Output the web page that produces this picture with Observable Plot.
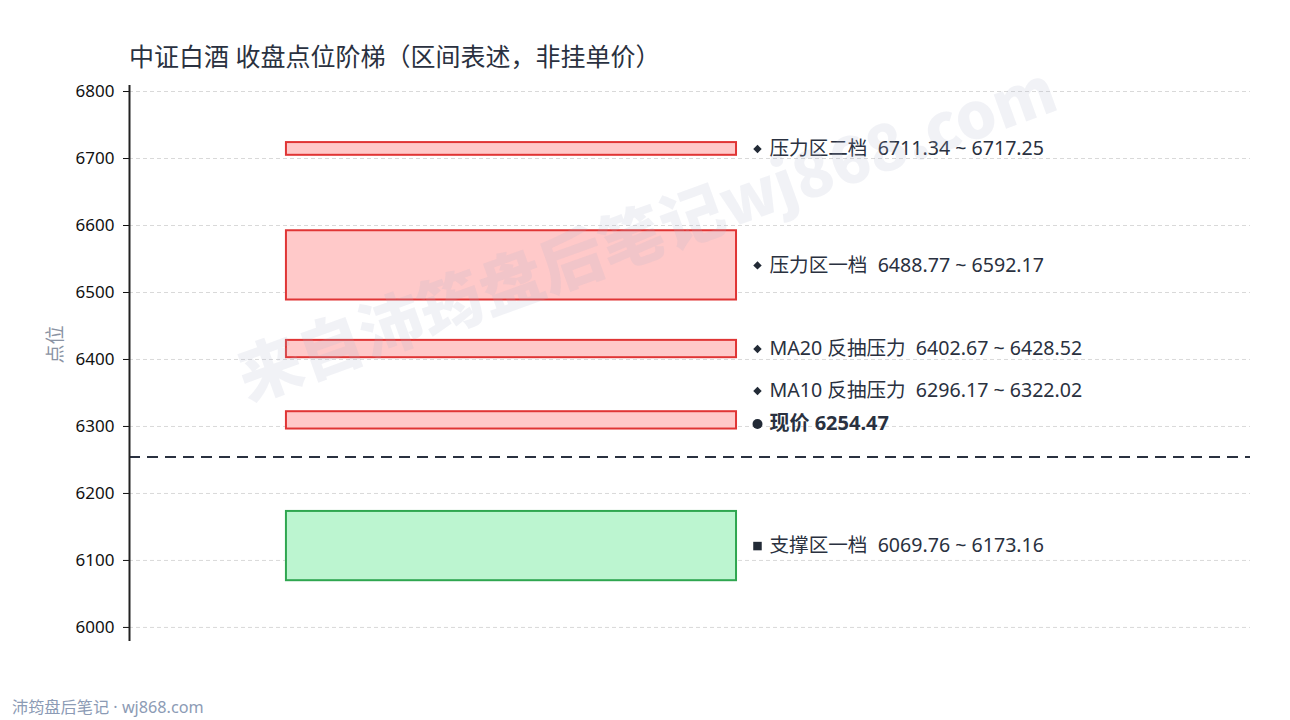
<!DOCTYPE html>
<html><head><meta charset="utf-8">
<script src="https://cdn.jsdelivr.net/npm/d3@7"></script>
<script src="https://cdn.jsdelivr.net/npm/@observablehq/plot@0.6"></script>
<style>
html,body{margin:0;padding:0;background:#fff;}
#wrap{position:relative;width:1290px;height:720px;overflow:hidden;font-family:"Noto Sans","Noto Sans CJK SC",sans-serif;}
#title{position:absolute;left:129px;top:38px;font-size:25px;color:#2a3140;white-space:nowrap;line-height:36px;}
#foot{position:absolute;left:12px;top:695px;font-size:16.2px;color:#8c9bb5;white-space:nowrap;line-height:24px;}
#wm{position:absolute;left:645px;top:229px;transform:translate(-50%,-50%) rotate(-19.8deg);font-size:64px;font-weight:900;font-family:"Noto Sans CJK SC",sans-serif;color:rgba(170,178,200,0.17);white-space:nowrap;pointer-events:none;}
#chart{position:absolute;left:0;top:0;}
</style></head>
<body><div id="wrap"><div id="chart"></div><div id="wm">来自沛筠盘后笔记wj868.com</div><div id="title">中证白酒 收盘点位阶梯（区间表述，非挂单价）</div><div id="foot">沛筠盘后笔记 · wj868.com</div></div>
<script>
const zoneNames = ["压力区二档","压力区一档","MA20 反抽压力","MA10 反抽压力","支撑区一档"];
const zoneLow  = [6711.34, 6488.77, 6402.67, 6296.17, 6069.76];
const zoneHigh = [6717.25, 6592.17, 6428.52, 6322.02, 6173.16];
const zoneKind = ["压力","压力","压力","压力","支撑"];
const currentPrice = 6254.47;
const currentLabel = "现价";
const yTicks = [6000,6100,6200,6300,6400,6500,6600,6700,6800];

const W = 1290, H = 720, mT = 85, mB = 79, mL = 129, mR = 40;
const yDom = [5979, 6809];
const unitsPerPx = (yDom[1]-yDom[0])/(H-mT-mB);
const minSpan = 19;
const boxX1 = 0.14, boxX2 = 0.5415, labX = 0.5602;
const FONT = '"Noto Sans","Noto Sans CJK SC",sans-serif';

const zones = zoneNames.map((n,i)=>{
  const lo = zoneLow[i], hi = zoneHigh[i], mid=(lo+hi)/2;
  const span = Math.max(hi-lo, minSpan);
  return {name:n, lo, hi, y1: mid-span/2, y2: mid+span/2, mid, kind: zoneKind[i],
    text: `${n}  ${lo.toFixed(2)} ~ ${hi.toFixed(2)}`,
    symbol: zoneKind[i]==="支撑" ? "square" : "diamond2"};
});
let labels = zones.map(z=>({y:z.mid, text:z.text, symbol:z.symbol, bold:false}));
labels.push({y: currentPrice + 33*unitsPerPx, text: `${currentLabel} ${currentPrice.toFixed(2)}`, symbol:"circle", bold:true});
// simple upward dodge so labels never overlap
labels.sort((a,b)=>a.y-b.y);
const gap = 33*unitsPerPx;
for(let i=1;i<labels.length;i++){ if(labels[i].y < labels[i-1].y + gap && !labels[i].bold) labels[i].y = labels[i-1].y + gap; }

const plot = Plot.plot({
  width: W, height: H, marginTop: mT, marginBottom: mB, marginLeft: mL, marginRight: mR,
  style:{fontFamily:FONT, background:"transparent"},
  x:{domain:[0,1], axis:null},
  y:{domain:yDom, ticks: yTicks, label:null},
  marks:[
    Plot.ruleY(yTicks, {stroke:"#d9d9d9", strokeWidth:1, strokeDasharray:"4,3"}),
    Plot.rect(zones, {x1:boxX1, x2:boxX2, y1:"y1", y2:"y2",
      fill: d=> d.kind==="支撑" ? "#bcf5d0" : "#ffc9c9",
      stroke: d=> d.kind==="支撑" ? "#2fa650" : "#e03535", strokeWidth:2}),
    Plot.ruleY([currentPrice], {stroke:"#2a3140", strokeWidth:2, strokeDasharray:"11,7"}),
    Plot.dot(labels.filter(d=>d.symbol==="diamond2"), {x:labX, y:"y", symbol:"diamond2", r:3.8, fill:"#222a36", stroke:null}),
    Plot.dot(labels.filter(d=>d.symbol==="square"), {x:labX, y:"y", symbol:"square", r:4.8, fill:"#222a36", stroke:null}),
    Plot.dot(labels.filter(d=>d.symbol==="circle"), {x:labX, y:"y", symbol:"circle", r:5, fill:"#222a36", stroke:null}),
    Plot.text(labels.filter(d=>!d.bold), {x:labX, y:"y", text:"text", dx:12, textAnchor:"start", fontSize:19.6, fill:"#2a3140"}),
    Plot.text(labels.filter(d=>d.bold), {x:labX, y:"y", text:"text", dx:12, textAnchor:"start", fontSize:20, fontWeight:"bold", fill:"#2a3140"}),
    Plot.axisY({ticks:yTicks, tickSize:6, tickPadding:9, fontSize:17, color:"#111", tickFormat:d=>String(d), label:null}),
    Plot.ruleX([0], {stroke:"#222", strokeWidth:2}),
    Plot.text(["点位"], {frameAnchor:"left", dx:-74, rotate:-90, fontSize:19, fill:"#8a93a3"})
  ]
});
document.getElementById("chart").appendChild(plot);
</script>
</body></html>
